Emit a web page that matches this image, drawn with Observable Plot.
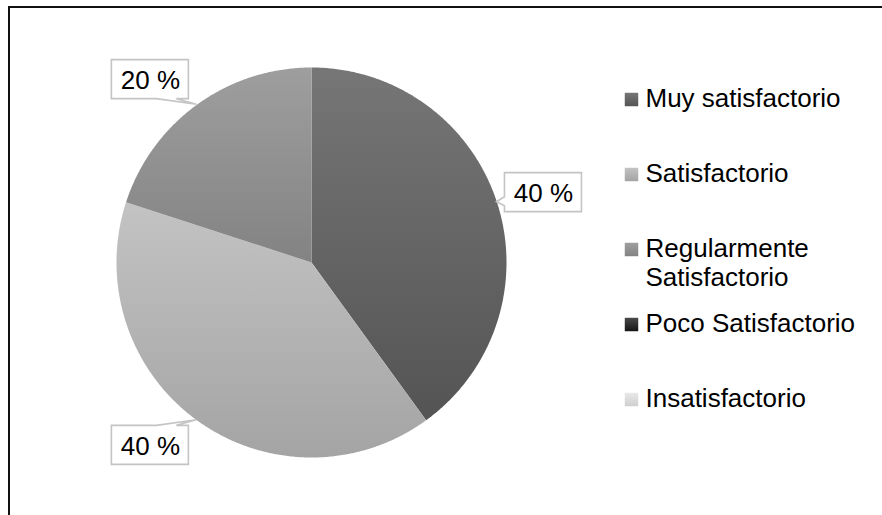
<!DOCTYPE html>
<html>
<head>
<meta charset="utf-8">
<script src="https://cdn.jsdelivr.net/npm/d3@7"></script>
<script src="https://cdn.jsdelivr.net/npm/@observablehq/plot@0.6"></script>
<style>
  html, body { margin: 0; padding: 0; background: #fff; }
  #wrap { position: relative; width: 882px; height: 515px; overflow: hidden; background: #fff;
          font-family: "Liberation Sans", Arial, sans-serif; }
  #frame { position: absolute; left: 8px; top: 6px; right: -4px; bottom: -4px;
           border-top: 2px solid #111; border-left: 2px solid #111; }
  #pie, #legend { position: absolute; top: 0; }
  #pie { left: 0; }
  #legend { left: 600px; }
</style>
</head>
<body>
<div id="wrap">
  <div id="frame"></div>
  <div id="pie"></div>
  <div id="legend"></div>
</div>
<script>
// ---- data ----
const categories = ["Muy satisfactorio", "Satisfactorio", "Regularmente Satisfactorio", "Poco Satisfactorio", "Insatisfactorio"];
const legendLabels = ["Muy satisfactorio", "Satisfactorio", "Regularmente\nSatisfactorio", "Poco Satisfactorio", "Insatisfactorio"];
const percentages = [40, 40, 20, 0, 0];

// ---- styles ----
const gradTop = ["#767676", "#c3c3c3", "#9e9e9e", "#4a4a4a", "#e8e8e8"];
const gradBottom = ["#545454", "#a4a4a4", "#838383", "#141414", "#cfcfcf"];
const FONT = '"Liberation Sans", Arial, sans-serif';

function defsMark(prefix) {
  return () => {
    const defs = d3.create("svg:defs");
    categories.forEach((c, i) => {
      const lg = defs.append("linearGradient").attr("id", prefix + i)
        .attr("x1", 0).attr("y1", 0).attr("x2", 0).attr("y2", 1);
      lg.append("stop").attr("offset", "0%").attr("stop-color", gradTop[i]);
      lg.append("stop").attr("offset", "100%").attr("stop-color", gradBottom[i]);
    });
    return defs.node();
  };
}

// slice geometry (angles clockwise from 12 o'clock, unit circle)
const total = d3.sum(percentages);
let acc = 0;
const slices = categories.map((c, i) => {
  const a0 = acc / total * 2 * Math.PI;
  acc += percentages[i];
  const a1 = acc / total * 2 * Math.PI;
  return {cat: c, i, v: percentages[i], a0, a1, mid: (a0 + a1) / 2};
}).filter(s => s.v > 0);

function slicePolygon(s) {
  const n = Math.max(2, Math.ceil((s.a1 - s.a0) / (Math.PI / 360)));
  const pts = [{x: 0, y: 0}];
  for (let k = 0; k <= n; k++) {
    const a = s.a0 + (s.a1 - s.a0) * k / n;
    pts.push({x: Math.sin(a), y: Math.cos(a)});
  }
  pts.push({x: 0, y: 0});
  return pts;
}

const BOX_W = 77, BOX_H = 39, GAP = 8, RISE = 31;
function boxFor(s, sx, sy) {
  const tx = sx(Math.sin(s.mid)), ty = sy(Math.cos(s.mid));
  const side = Math.sin(s.mid) >= 0 ? 1 : -1;
  const cx = side > 0 ? tx + GAP + BOX_W / 2 : tx - GAP - BOX_W / 2;
  const cy = ty - RISE * Math.cos(s.mid);
  return {tx, ty, cx, cy, L: cx - BOX_W / 2, R: cx + BOX_W / 2, T: cy - BOX_H / 2, B: cy + BOX_H / 2, side};
}

const calloutMark = (index, scales) => {
  const g = d3.create("svg:g");
  slices.forEach(s => {
    const b = boxFor(s, scales.x, scales.y);
    let d;
    if (b.ty >= b.T && b.ty <= b.B) {
      const y1 = b.ty - 5, y2 = b.ty + 4;
      if (b.side > 0) d = `M${b.L},${b.T}H${b.R}V${b.B}H${b.L}V${y2}L${b.tx},${b.ty}L${b.L},${y1}Z`;
      else d = `M${b.L},${b.T}H${b.R}V${y1}L${b.tx},${b.ty}L${b.R},${y2}V${b.B}H${b.L}Z`;
    } else {
      const x1 = b.side < 0 ? b.R - 32 : b.L + 12, x2 = x1 + 20;
      if (b.ty > b.B) d = `M${b.L},${b.T}H${b.R}V${b.B}H${x2}L${b.tx},${b.ty}L${x1},${b.B}H${b.L}Z`;
      else d = `M${b.L},${b.T}H${x1}L${b.tx},${b.ty}L${x2},${b.T}H${b.R}V${b.B}H${b.L}Z`;
    }
    g.append("path").attr("d", d).attr("fill", "#fff").attr("stroke", "#c4c4c4")
      .attr("stroke-width", 1.6).attr("stroke-linejoin", "miter");
  });
  return g.node();
};

const X_RANGE = [116, 506], Y_RANGE = [457, 67];
const pieMarks = [defsMark("pg")];
slices.forEach(s => {
  pieMarks.push(Plot.line(slicePolygon(s), {x: "x", y: "y", fill: `url(#pg${s.i})`, stroke: "none", curve: "linear"}));
});
pieMarks.push(calloutMark);

// label texts: anchored at each slice's mid-angle, shifted into its callout box
const sxTmp = d3.scaleLinear([-1, 1], X_RANGE);
const syTmp = d3.scaleLinear([-1, 1], Y_RANGE);
slices.forEach(s => {
  const b = boxFor(s, sxTmp, syTmp);
  pieMarks.push(Plot.text([s], {
    x: d => Math.sin(d.mid), y: d => Math.cos(d.mid),
    text: d => `${d.v} %`,
    dx: b.cx - b.tx, dy: b.cy - b.ty + 1.5,
    fontSize: 26, fontFamily: FONT, fill: "#000", textAnchor: "middle", lineAnchor: "middle"
  }));
});

const pie = Plot.plot({
  width: 882, height: 515,
  marginTop: 0, marginRight: 0, marginBottom: 0, marginLeft: 0,
  x: {domain: [-1, 1], range: X_RANGE, axis: null},
  y: {domain: [-1, 1], range: Y_RANGE, axis: null},
  style: {background: "transparent", fontFamily: FONT},
  marks: pieMarks
});
document.getElementById("pie").appendChild(pie);

// ---- legend ----
const legendMarks = [defsMark("lg")];
categories.forEach((c, i) => {
  legendMarks.push(Plot.dot([c], {
    y: d => d, frameAnchor: "left", symbol: "square", r: 7.6,
    fill: `url(#lg${i})`, stroke: "none", dy: 13
  }));
});
legendMarks.push(Plot.text(categories, {
  y: d => d, text: (d, i) => legendLabels[i],
  frameAnchor: "left", dx: 14, textAnchor: "start", lineAnchor: "top",
  lineHeight: 1.12, fontSize: 26, fontFamily: FONT, fill: "#000"
}));

const legend = Plot.plot({
  width: 282, height: 515,
  marginTop: 0, marginRight: 0, marginBottom: 0, marginLeft: 31,
  y: {type: "point", domain: categories, range: [86.3, 386.3], padding: 0, axis: null},
  style: {background: "transparent", fontFamily: FONT},
  marks: legendMarks
});
document.getElementById("legend").appendChild(legend);
</script>
</body>
</html>
